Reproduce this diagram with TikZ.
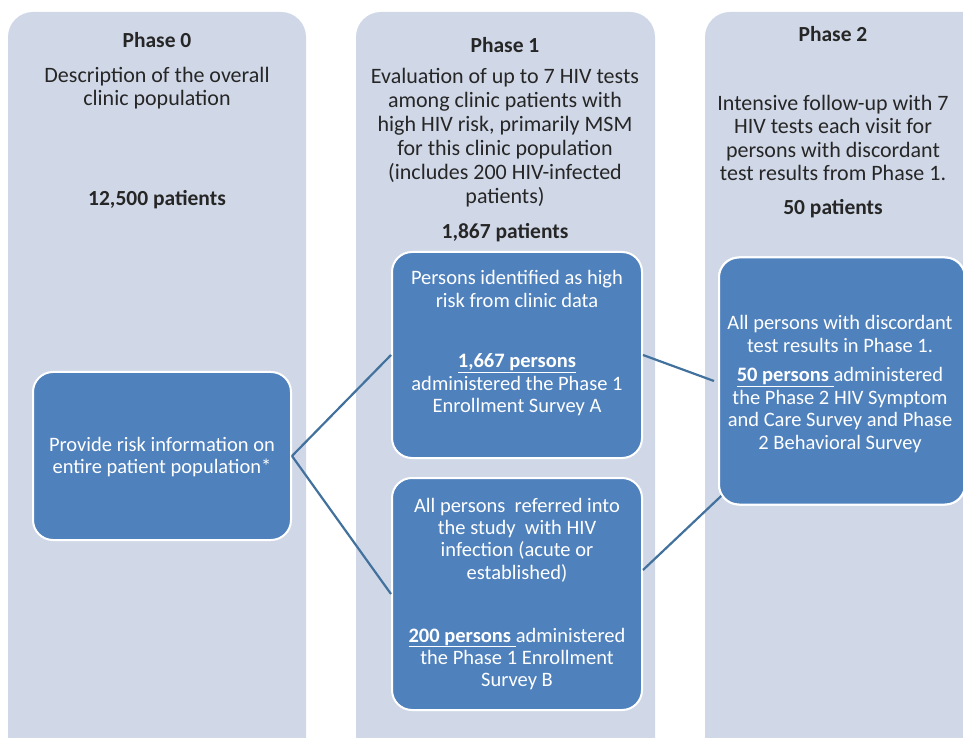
\documentclass[tikz,border=0pt]{standalone}
\usepackage{fontspec}
\setmainfont{Carlito}
\usetikzlibrary{calc}
\definecolor{colfill}{HTML}{D0D8E8}
\definecolor{boxblue}{HTML}{4F81BD}
\definecolor{linkblue}{HTML}{41719C}
\definecolor{txtgray}{HTML}{262626}
\lineskiplimit=-20pt
\begin{document}
\begin{tikzpicture}[x=1pt, y=1pt,
    phase/.style={fill=colfill, rounded corners=25pt},
    bluebox/.style={draw=white, line width=2pt, fill=boxblue, rounded corners=20pt, inner sep=0pt},
    link/.style={draw=linkblue, line width=2.2pt},
    coltext/.style={text=txtgray, align=center, font=\fontsize{22}{23.3}\selectfont},
    boldtext/.style={text=txtgray, align=center, font=\fontsize{21.5}{23}\selectfont\bfseries},
    boxtext/.style={text=white, align=center, font=\fontsize{20.5}{22.4}\selectfont}]
    \useasboundingbox (0,0) rectangle (963,737);
    \clip (0,0) rectangle (963,737);

    % Columnas de las fases
    \fill[phase] (8,-40) rectangle (306,725);
    \fill[phase] (356,-40) rectangle (655,725);
    \fill[phase] (705,-40) rectangle (1000,725);

    % Cajas azules
    \node[bluebox, minimum width=258pt, minimum height=168pt] (p0box) at (162,281) {};
    \node[bluebox, minimum width=250pt, minimum height=206pt] (boxA) at (517,382) {};
    \node[bluebox, minimum width=250pt, minimum height=232pt] (boxB) at (517,143) {};
    \node[bluebox, minimum width=246pt, minimum height=247pt] (p2box) at (842,356) {};

    % Conexiones
    \draw[link] (p0box.east) -- (boxA.west);
    \draw[link] (p0box.east) -- (boxB.west);
    \draw[link] (boxA.east) -- ($(p2box.west)+(-4,0)$);
    \draw[link] ($(boxB.east)+(0,24)$) -- ($(p2box.south west)+(9,15)$);
    % Se repinta la caja para tapar el extremo de la linea
    \node[bluebox, minimum width=246pt, minimum height=247pt] at (p2box.center) {};

    % Fase 0
    \node[boldtext] (p0title) at (157,697) {Phase 0};
    \node[coltext] (p0desc) at (157,649) {Description of the overall\\clinic population};
    \node[boldtext] (p0count) at (157,537) {12,500 patients};
    \node[boxtext] (p0info) at (162,280) {Provide risk information on\\entire patient population*};

    % Fase 1
    \node[boldtext] (p1title) at (505,692) {Phase 1};
    \node[coltext, font=\fontsize{22}{24}\selectfont] (p1desc) at (505,599) {Evaluation of up to 7 HIV tests\\among clinic patients with\\high HIV risk, primarily MSM\\for this clinic population\\(includes 200 HIV-infected\\patients)};
    \node[boldtext] (p1count) at (505,504) {1,867 patients};
    \node[boxtext] (atop) at (517,448) {Persons identified as high\\risk from clinic data};
    \node[boxtext] (abot) at (517,352) {\textbf{\underline{1,667 persons}}\\administered the Phase 1\\Enrollment Survey A};
    \node[boxtext] (btop) at (517,197) {All persons\ \ referred into\\the study\ \ with HIV\\infection (acute or\\established)};
    \node[boxtext] (bbot) at (517,78) {\textbf{\underline{200 persons\ }}administered\\the Phase 1 Enrollment\\Survey B};

    % Fase 2
    \node[boldtext] (p2title) at (833,703) {Phase 2};
    \node[coltext] (p2desc) at (833,599) {Intensive follow-up with 7\\HIV tests each visit for\\persons with discordant\\test results from Phase 1.};
    \node[boldtext] (p2count) at (833,528) {50 patients};
    \node[boxtext] (ctop) at (840,403) {All persons with discordant\\test results in Phase 1.};
    \node[boxtext] (cbot) at (840,327) {\textbf{\underline{50 persons\ }}administered\\the Phase 2 HIV Symptom\\and Care Survey and Phase\\2 Behavioral Survey};
\end{tikzpicture}
\end{document}
